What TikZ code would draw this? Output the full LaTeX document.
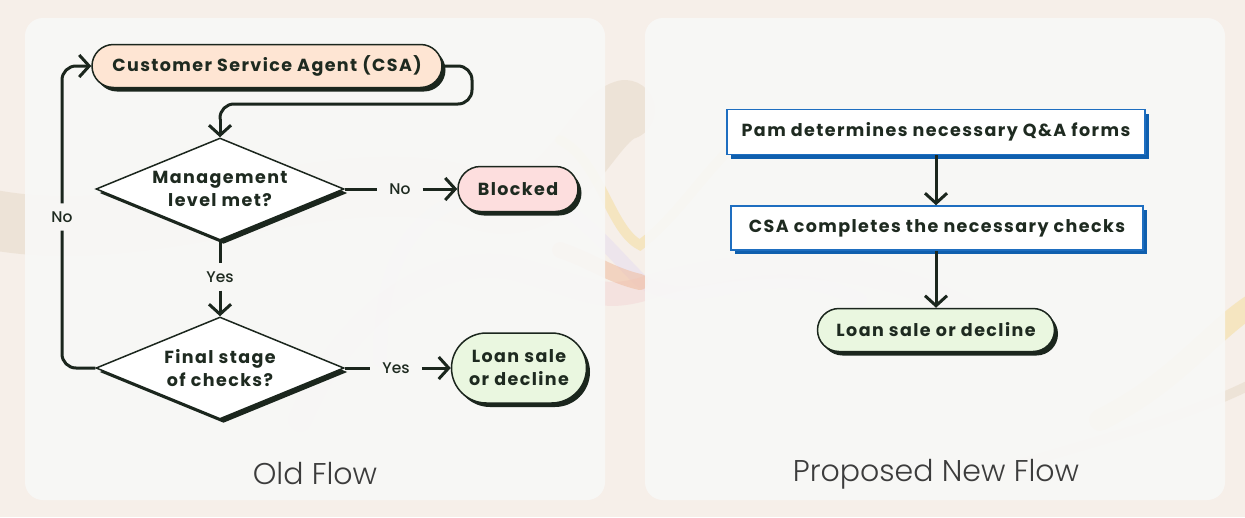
\documentclass[tikz,border=0pt]{standalone}
\usepackage{fontspec}
\setsansfont{Poppins}
\newfontfamily\titlefont{Poppins Light}
\newfontfamily\nodefam{Poppins}[LetterSpace=8]
\newfontfamily\lblfam{Poppins Medium}
\usetikzlibrary{shapes.geometric,shapes.misc,arrows.meta,shadows}
\definecolor{outerbg}{HTML}{F6EFE9}
\definecolor{panelbg}{HTML}{F8F8F7}
\definecolor{dark}{HTML}{1B261D}
\definecolor{ink}{HTML}{1E2A20}
\definecolor{peach}{HTML}{FEE5D3}
\definecolor{pinkf}{HTML}{FDDEDE}
\definecolor{greenf}{HTML}{EAF7E0}
\definecolor{blueb}{HTML}{1E6EC0}
\definecolor{blues}{HTML}{0F5FAE}
\definecolor{titlec}{HTML}{3C3C3C}
\definecolor{swtan}{HTML}{E6D8C6}
\definecolor{swyel}{HTML}{F5DC98}
\definecolor{sworg}{HTML}{F0B898}
\definecolor{swpink}{HTML}{F3D6D6}
\definecolor{swlav}{HTML}{E6DDF0}
\newcommand{\nodefont}{\nodefam\fontsize{17.5}{23}\selectfont\bfseries}
\newcommand{\lblfont}{\lblfam\fontsize{15.5}{18}\selectfont}
\tikzset{
  conn/.style={draw=dark, line width=3pt, rounded corners=14pt},
  arr/.style={conn, -{Straight Barb[length=10pt,width=22pt]}},
  dshadow/.style={drop shadow={shadow xshift=3.5pt, shadow yshift=-4pt, fill=dark, opacity=1}},
  pill/.style={rounded rectangle, draw=dark, line width=1.5pt, text=ink, font=\nodefont, align=center, inner sep=0pt, dshadow},
  dia/.style={diamond, draw=dark, fill=white, line width=1.5pt, minimum width=248pt, minimum height=102pt, inner sep=0pt, dshadow},
  diatext/.style={align=center, text=ink, font=\nodefont, inner sep=0pt},
  bluebox/.style={rectangle, draw=blueb, fill=white, line width=1.5pt, text=ink, font=\nodefont, inner sep=0pt, drop shadow={shadow xshift=4pt, shadow yshift=-4pt, fill=blues, opacity=1}},
  lbl/.style={font=\lblfont, text=ink, inner xsep=12pt, inner ysep=8pt},
  panel/.style={fill=panelbg, rounded corners=18pt, opacity=0.92},
  title/.style={font=\titlefont\fontsize{30}{35}\selectfont, text=titlec},
  swirl/.style={line cap=round, opacity=0.5}
}
\begin{document}
\begin{tikzpicture}[x=1pt,y=-1pt]
\useasboundingbox (0,0) rectangle (1245,517);
\fill[outerbg] (0,0) rectangle (1245,517);
% decorative swirls
\draw[swirl, swtan, line width=60pt] (-30,215) .. controls (150,260) and (330,150) .. (480,200) .. controls (560,225) and (590,120) .. (625,110);
\draw[swirl, swlav, line width=14pt] (380,360) .. controls (380,250) and (420,200) .. (500,190) .. controls (560,185) and (600,240) .. (640,280) .. controls (700,320) and (760,250) .. (860,300);
\draw[swirl, swpink, line width=24pt] (300,420) .. controls (350,300) and (450,250) .. (520,270) .. controls (590,290) and (600,300) .. (640,290) .. controls (760,250) and (900,260) .. (1000,330);
\draw[swirl, sworg, line width=16pt] (560,250) .. controls (590,260) and (610,275) .. (640,282);
\draw[swirl, swyel, line width=10pt] (560,140) .. controls (600,160) and (610,230) .. (640,245) .. controls (700,200) and (740,100) .. (800,130);
\draw[swirl, swyel, line width=22pt] (1100,420) .. controls (1180,380) and (1210,330) .. (1260,300);
\draw[swirl, swtan, line width=10pt] (1000,470) .. controls (1100,440) and (1180,420) .. (1260,380);
% panels
\fill[panel] (25,18) rectangle (605,500);
\fill[panel] (645,18) rectangle (1225,500);
% ---------- Old flow ----------
\node[pill, fill=peach, minimum width=350pt, minimum height=43pt] (csa) at (267,66) {Customer Service Agent (CSA)};
\node[dia] (d1) at (220,189) {};
\node[diatext] (d1t) at (d1.center) {Management\\level met?};
\node[dia] (d2) at (220,368) {};
\node[diatext] (d2t) at (d2.center) {Final stage\\of checks?};
\node[pill, fill=pinkf, minimum width=120pt, minimum height=45pt] (blk) at (518,189) {Blocked};
\node[pill, fill=greenf, minimum width=135pt, minimum height=70pt] (loan1) at (519,368) {Loan sale\\or decline};
\node[lbl] (no1) at (400,189) {No};
\node[lbl] (yes1) at (220,277) {Yes};
\node[lbl] (yes2) at (396,368) {Yes};
\node[lbl] (no2) at (62,217) {No};
\coordinate (loopR) at (472,104);
\coordinate (d1in) at ([yshift=18pt]d1.north);
\draw[conn] (csa.east) -| (loopR) -| (d1in);
\draw[arr] (d1in) -- (d1.north);
\draw[conn] (d1.east) -- (no1.west);
\draw[arr] (no1.east) -- (blk.west);
\draw[conn] (d1.south) -- (yes1.north);
\draw[arr] (yes1.south) -- (d2.north);
\draw[conn] (d2.east) -- (yes2.west);
\draw[arr] (yes2.east) -- (loan1.west);
\draw[conn] (d2.west) -| (no2.south);
\draw[arr] (no2.north) |- (csa.west);
\node[title] (t1) at (315,474) {Old Flow};
% ---------- New flow ----------
\node[bluebox, minimum width=418pt, minimum height=45pt] (b1) at (936,132) {Pam determines necessary Q\&A forms};
\node[bluebox, minimum width=412pt, minimum height=44pt] (b2) at (937,228) {CSA completes the necessary checks};
\node[pill, fill=greenf, minimum width=237pt, minimum height=43pt] (loan2) at (936,330) {Loan sale or decline};
\draw[arr] (b1.south -| loan2.north) -- (b2.north -| loan2.north);
\draw[arr] (b2.south -| loan2.north) -- (loan2.north);
\node[title] (t2) at (936,474) {Proposed New Flow};
\end{tikzpicture}
\end{document}
